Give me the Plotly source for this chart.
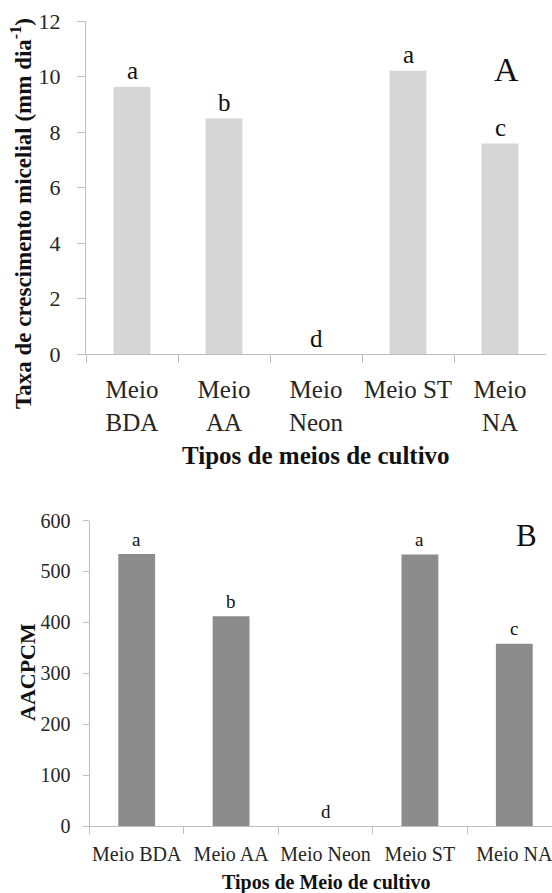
import plotly.graph_objects as go

# ---- data ----
categories_top = ["Meio<br>BDA", "Meio<br>AA", "Meio<br>Neon", "Meio ST", "Meio<br>NA"]
growth_rate = [9.63, 8.49, 0.0, 10.21, 7.59]
letters_top = ["a", "b", "d", "a", "c"]

categories_bottom = ["Meio BDA", "Meio AA", "Meio Neon", "Meio ST", "Meio NA"]
aacpcm = [534, 412, 0, 533, 358]
letters_bottom = ["a", "b", "d", "a", "c"]

y_ticks_top = [0, 2, 4, 6, 8, 10, 12]
y_ticks_bottom = [0, 100, 200, 300, 400, 500, 600]

W, H = 552, 893
FONT = "Liberation Serif"
AXIS_COL = "#bfbfbf"
TICK_TXT = "#262626"

def px(x):
    return x / W

def py(y):
    return 1 - y / H

fig = go.Figure()
fig.add_trace(go.Bar(x=categories_top, y=growth_rate, width=0.4,
                     marker=dict(color="#d6d6d6", line=dict(width=0)),
                     xaxis="x", yaxis="y", showlegend=False))
fig.add_trace(go.Bar(x=categories_bottom, y=aacpcm, width=0.39,
                     marker=dict(color="#8c8c8c", line=dict(width=0)),
                     xaxis="x2", yaxis="y2", showlegend=False))

annotations = []
# significance letters
for c, v, t in zip(categories_top, growth_rate, letters_top):
    annotations.append(dict(x=c, y=v, xref="x", yref="y", text=t, showarrow=False,
                            yanchor="middle", yshift=16,
                            font=dict(family=FONT, size=25, color="#111")))
for c, v, t in zip(categories_bottom, aacpcm, letters_bottom):
    annotations.append(dict(x=c, y=v, xref="x2", yref="y2", text=t, showarrow=False,
                            yanchor="middle", yshift=15,
                            font=dict(family=FONT, size=19, color="#111")))

# panel letters
annotations.append(dict(x=px(506), y=py(69), xref="paper", yref="paper", text="A",
                        showarrow=False, xanchor="center", yanchor="middle",
                        font=dict(family=FONT, size=34, color="#111")))
annotations.append(dict(x=px(526), y=py(535), xref="paper", yref="paper", text="B",
                        showarrow=False, xanchor="center", yanchor="middle",
                        font=dict(family=FONT, size=31, color="#111")))

# axis titles
annotations.append(dict(x=px(316), y=py(455), xref="paper", yref="paper",
                        text="<b>Tipos de meios de cultivo</b>", showarrow=False,
                        xanchor="center", yanchor="middle",
                        font=dict(family=FONT, size=25, color="#111")))
annotations.append(dict(x=px(21), y=py(214), xref="paper", yref="paper",
                        text="<b>Taxa de crescimento micelial (mm dia<sup>-1</sup>)</b>",
                        showarrow=False, textangle=-90, xanchor="center", yanchor="middle",
                        font=dict(family=FONT, size=23, color="#111")))
annotations.append(dict(x=px(326), y=py(882), xref="paper", yref="paper",
                        text="<b>Tipos de Meio de cultivo</b>", showarrow=False,
                        xanchor="center", yanchor="middle",
                        font=dict(family=FONT, size=20, color="#111")))
annotations.append(dict(x=px(27), y=py(672), xref="paper", yref="paper",
                        text="<b>AACPCM</b>", showarrow=False, textangle=-90,
                        xanchor="center", yanchor="middle",
                        font=dict(family=FONT, size=22, color="#111")))

common_x = dict(type="category", showline=True, linecolor=AXIS_COL, linewidth=1,
                ticks="outside", tickson="boundaries", tickcolor=AXIS_COL,
                showgrid=False, zeroline=False, fixedrange=True, tickangle=0,
                automargin=False)
common_y = dict(showline=True, linecolor=AXIS_COL, linewidth=1, ticks="outside",
                tickcolor=AXIS_COL, showgrid=False, zeroline=False, tickmode="array",
                automargin=False, fixedrange=True)

fig.update_layout(
    template="none",
    width=W, height=H, margin=dict(l=0, r=0, t=0, b=0, pad=0, autoexpand=False),
    autosize=False,
    paper_bgcolor="white", plot_bgcolor="white",
    font=dict(family=FONT, color="#222"),
    bargap=0.6,
    xaxis=dict(**common_x, domain=[px(86), px(546)], anchor="y", range=[-0.5, 4.5],
               ticklen=8, ticklabelstandoff=13,
               tickfont=dict(family=FONT, size=25, color=TICK_TXT)),
    yaxis=dict(**common_y, domain=[py(354), py(21)], anchor="x", range=[0, 12],
               tickvals=y_ticks_top, ticklen=8, ticklabelstandoff=12,
               tickfont=dict(family=FONT, size=22, color=TICK_TXT)),
    xaxis2=dict(**common_x, domain=[px(89.5), 1.0], anchor="y2",
                range=[-0.5, -0.5 + (552 - 89.5) / 94.4],
                ticklen=7, ticklabelstandoff=10,
                tickfont=dict(family=FONT, size=20, color=TICK_TXT)),
    yaxis2=dict(**common_y, domain=[py(826), py(520.5)], anchor="x2", range=[0, 600],
                tickvals=y_ticks_bottom, ticklen=6, ticklabelstandoff=8,
                tickfont=dict(family=FONT, size=20, color=TICK_TXT)),
    annotations=annotations,
)

fig.write_html("out.html")
